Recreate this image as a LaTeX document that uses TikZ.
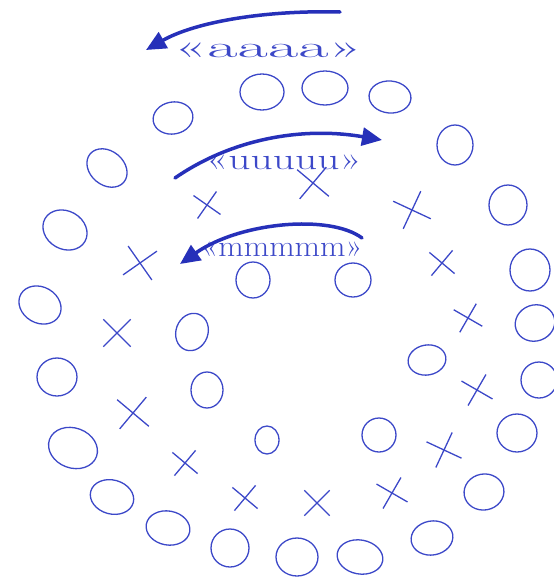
\documentclass[tikz,border=0pt]{standalone}
\usetikzlibrary{arrows.meta,shapes.geometric,shapes.misc}
\definecolor{ink}{RGB}{60,72,200}
\definecolor{inkdark}{RGB}{38,48,185}
\begin{document}
\begin{tikzpicture}[x=1pt,y=-1pt,
  ring/.style={draw=ink, line width=1.3pt, ellipse, inner sep=0pt},
  xmark/.style={cross out, draw=ink, line width=1.3pt, inner sep=0pt, minimum size=#1},
  xmark/.default=24pt,
  bigarrow/.style={draw=inkdark, line width=3.5pt, line cap=round, -{Triangle[length=20pt,width=18pt]}},
  chant/.style={text=ink, font=\fontsize{30}{30}\selectfont, inner sep=0pt}]
\useasboundingbox (0,0) rectangle (554,579);
% outer ring of circles
\foreach \n/\x/\y/\w/\h/\r in {
  o1/173/118/40/32/10, o2/262/92/44/36/0, o3/325/88/46/34/0, o4/390/97/42/32/-5,
  o5/455/145/36/40/0, o6/508/205/38/40/0, o7/530/270/40/42/0, o8/535/323/40/36/20,
  o9/539/380/36/36/0, o10/517/433/40/38/0, o11/484/492/40/36/10, o12/432/538/42/34/10,
  o13/360/557/46/34/-10, o14/297/557/42/38/0, o15/230/548/38/38/0, o16/168/528/44/34/-10,
  o17/112/497/44/34/-15, o18/73/448/50/40/-20, o19/57/377/40/38/0, o20/40/305/44/36/-30,
  o21/65/230/46/38/-30, o22/107/168/44/34/-40}
  {\node[ring, minimum width=\w pt, minimum height=\h pt, rotate=\r] (\n) at (\x,\y) {};}
% inner circles
\foreach \n/\x/\y/\w/\h/\r in {
  i1/253/280/34/36/0, i2/353/280/36/34/0, i3/192/332/32/38/-20, i4/207/390/32/36/0,
  i5/267/440/24/28/0, i6/379/435/34/34/0, i7/427/360/38/30/10}
  {\node[ring, minimum width=\w pt, minimum height=\h pt, rotate=\r] (\n) at (\x,\y) {};}
% crosses
\foreach \n/\x/\y/\s/\r in {
  x1/207/205/22/10, x2/313/183/28/5, x3/412/210/28/20, x4/140/263/28/-10,
  x5/442/263/22/5, x6/468/318/22/15, x7/117/333/26/0, x8/133/413/28/5,
  x9/185/463/22/5, x10/245/498/22/5, x11/317/503/24/0, x12/392/493/24/15,
  x13/444/450/26/20, x14/477/390/24/15}
  {\node[xmark=\s pt, rotate=\r] (\n) at (\x,\y) {};}
% chant texts
\node[chant] (t1) at (268,50) {\scalebox{2.2}[1]{«aaaa»}};
\node[chant] (t2) at (284,162) {\scalebox{1.45}[1]{«uuuuu»}};
\node[chant] (t3) at (282,249) {\scalebox{1.1}[1]{«mmmmm»}};
% arrows
\coordinate (a1s) at (340,12);
\coordinate (a1e) at (146,50);
\coordinate (a2s) at (175,178);
\coordinate (a2e) at (382,140);
\coordinate (a3s) at (362,238);
\coordinate (a3e) at (180,264);
\draw[bigarrow] (a1s) .. controls (265,10) and (195,22) .. (a1e);
\draw[bigarrow] (a2s) .. controls (230,140) and (300,126) .. (a2e);
\draw[bigarrow] (a3s) .. controls (330,214) and (240,222) .. (a3e);
\end{tikzpicture}
\end{document}
